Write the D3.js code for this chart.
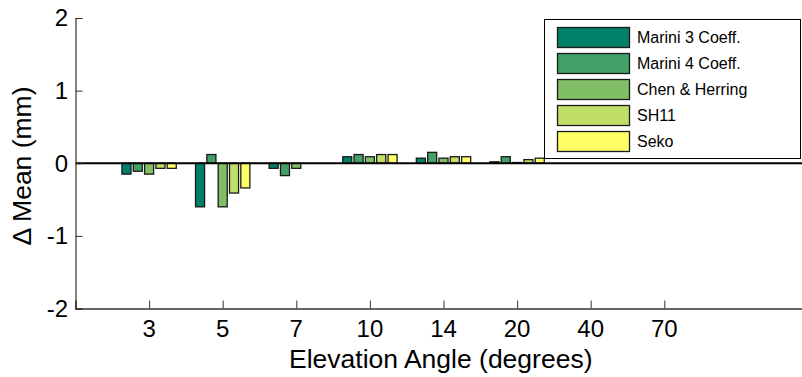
<!DOCTYPE html>
<html>
<head>
<meta charset="utf-8">
<script src="https://cdn.jsdelivr.net/npm/d3@7"></script>
<style>
  html, body { margin: 0; padding: 0; background: #fff; }
  svg { display: block; font-family: Arial, "Liberation Sans", Helvetica, sans-serif; }
</style>
</head>
<body>
<svg id="chart" width="802" height="377"></svg>
<script>
// Elevation-angle bins and mean differences (mm) per mapping function
const angles = ["3", "5", "7", "10", "14", "20", "40", "70"];
const seriesNames = ["Marini 3 Coeff.", "Marini 4 Coeff.", "Chen & Herring", "SH11", "Seko"];
const marini3 = [-0.15, -0.60, -0.07, 0.09, 0.07, 0.02, null, null];
const marini4 = [-0.11, 0.12, -0.17, 0.12, 0.15, 0.09, null, null];
const chenHerring = [-0.15, -0.60, -0.07, 0.09, 0.07, 0.01, null, null];
const sh11 = [-0.07, -0.41, 0.00, 0.12, 0.09, 0.05, null, null];
const seko = [-0.07, -0.34, 0.00, 0.12, 0.09, 0.07, null, null];
const yTicks = [-2, -1, 0, 1, 2];

const series = [marini3, marini4, chenHerring, sh11, seko];
// "summer" colour ramp
const colors = ["#008066", "#40a066", "#80bf66", "#bfdf66", "#ffff66"];

const svg = d3.select("#chart");

// bins sit at positions 1..8 on a 0..10 axis
const x = d3.scaleLinear().domain([0, 10]).range([75.5, 811.5]);
const y = d3.scaleLinear().domain([-2, 2]).range([308.5, 18]);

const nSeries = series.length;
const groupWidth = Math.min(0.8, nSeries / (nSeries + 1.5));
const step = groupWidth / nSeries;
const barW = x(step * 0.8) - x(0);

// bars
series.forEach((vals, si) => {
  const offset = (si - (nSeries - 1) / 2) * step;
  svg.append("g")
    .selectAll("rect")
    .data(vals.map((v, i) => ({ v, i })).filter(d => d.v !== null))
    .join("rect")
    .attr("x", d => x(d.i + 1 + offset) - barW / 2)
    .attr("width", barW)
    .attr("y", d => y(Math.max(0, d.v)))
    .attr("height", d => Math.abs(y(d.v) - y(0)))
    .attr("fill", colors[si])
    .attr("stroke", "#1a1a1a")
    .attr("stroke-width", 1.3);
});

// zero reference line
svg.append("line")
  .attr("x1", x(0)).attr("x2", 802)
  .attr("y1", y(0)).attr("y2", y(0))
  .attr("stroke", "#000").attr("stroke-width", 2);

// y axis with inward ticks
const yAxis = d3.axisRight(y).tickValues(yTicks).tickSize(7).tickFormat("");
const gy = svg.append("g").attr("transform", `translate(${x(0)},0)`).call(yAxis);
gy.select(".domain").attr("stroke", "#333").attr("stroke-width", 1.2);
gy.selectAll(".tick line").attr("stroke", "#333").attr("stroke-width", 1);

svg.append("g").selectAll("text")
  .data(yTicks)
  .join("text")
  .attr("x", 68)
  .attr("y", d => y(d))
  .attr("dy", "0.35em")
  .attr("text-anchor", "end")
  .attr("font-size", 24)
  .attr("fill", "#000")
  .text(d => d);

// x axis with inward ticks
const xAxis = d3.axisTop(x).tickValues(d3.range(1, angles.length + 1)).tickSize(8).tickFormat("");
const gx = svg.append("g").attr("transform", `translate(0,${y(-2)})`).call(xAxis);
gx.select(".domain").attr("stroke", "#333").attr("stroke-width", 1.6);
gx.selectAll(".tick line").attr("stroke", "#333").attr("stroke-width", 1);

svg.append("g").selectAll("text")
  .data(angles)
  .join("text")
  .attr("x", (d, i) => x(i + 1))
  .attr("y", 336.5)
  .attr("text-anchor", "middle")
  .attr("font-size", 24)
  .attr("fill", "#000")
  .text(d => d);

// axis titles
svg.append("text")
  .attr("x", (x(0) + 802) / 2 + 2)
  .attr("y", 367.5)
  .attr("text-anchor", "middle")
  .attr("font-size", 26.5)
  .attr("fill", "#000")
  .text("Elevation Angle (degrees)");

svg.append("text")
  .attr("transform", "translate(31,166) rotate(-90)")
  .attr("text-anchor", "middle")
  .attr("font-size", 26.5)
  .attr("fill", "#000")
  .text("\u0394 Mean (mm)");

// legend
const legend = svg.append("g");
legend.append("rect")
  .attr("x", 544.5).attr("y", 19.5)
  .attr("width", 256).attr("height", 139)
  .attr("fill", "#fff").attr("stroke", "#000").attr("stroke-width", 1);

seriesNames.forEach((name, i) => {
  const cy = 37.5 + i * 26;
  legend.append("rect")
    .attr("x", 557.5).attr("y", cy - 10)
    .attr("width", 72).attr("height", 20)
    .attr("fill", colors[i])
    .attr("stroke", "#1a1a1a").attr("stroke-width", 1.3);
  legend.append("text")
    .attr("x", 637).attr("y", cy)
    .attr("dy", "0.36em")
    .attr("font-size", 16)
    .attr("fill", "#000")
    .text(name);
});
</script>
</body>
</html>
